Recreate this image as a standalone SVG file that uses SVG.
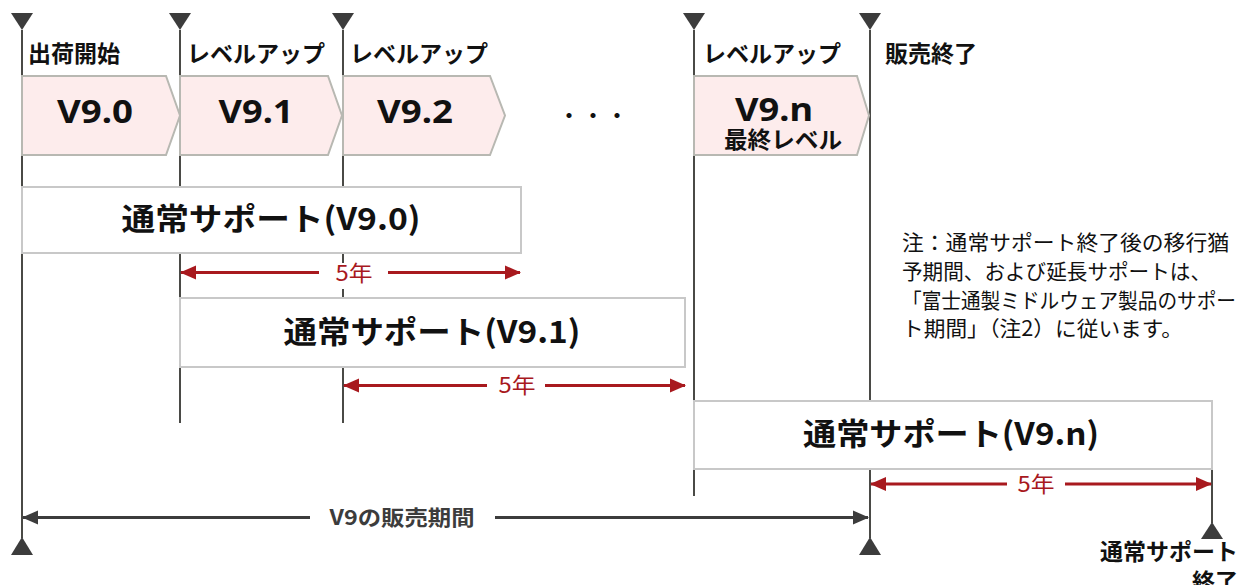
<svg xmlns="http://www.w3.org/2000/svg" width="1241" height="585" viewBox="0 0 1241 585">
<defs>
<style>
.vline{stroke:#4a4a46;stroke-width:2;fill:none}
.tri{fill:#3c3c3c}
.pent{fill:#FDECEC;stroke:#B8B8B2;stroke-width:2}
.box{fill:#ffffff;stroke:#C8C8C8;stroke-width:2}
.red{stroke:#A8191E;stroke-width:3;fill:none}
.dark{stroke:#3c3c3c;stroke-width:3;fill:none}
.lbl{font-family:"Noto Sans CJK JP","Noto Sans",sans-serif;font-weight:bold;font-size:23px;fill:#111}
.ver{font-family:"Noto Sans","Noto Sans CJK JP",sans-serif;font-weight:bold;font-size:33px;fill:#111;text-anchor:middle}
.sup{font-family:"Noto Sans CJK JP","Noto Sans",sans-serif;font-weight:bold;font-size:31px;fill:#111;text-anchor:middle}
.yr{font-family:"Noto Sans CJK JP","Noto Sans",sans-serif;font-size:22px;fill:#A8191E;text-anchor:middle}
.note{font-family:"Noto Sans CJK JP","Noto Sans",sans-serif;font-size:21px;fill:#111}
</style>
<marker id="ra" markerUnits="userSpaceOnUse" markerWidth="16" markerHeight="16" viewBox="0 0 16 16" refX="15" refY="8" orient="auto-start-reverse"><path d="M0,1 L16,8 L0,15 Z" fill="#A8191E"/></marker>
<marker id="da" markerUnits="userSpaceOnUse" markerWidth="16" markerHeight="16" viewBox="0 0 16 16" refX="15" refY="8" orient="auto-start-reverse"><path d="M0,1 L16,8 L0,15 Z" fill="#3c3c3c"/></marker>
</defs>
<rect width="1241" height="585" fill="#ffffff"/>
<g id="connectors">
<line class="vline" x1="22" y1="30" x2="22" y2="538"/>
<line class="vline" x1="180" y1="30" x2="180" y2="423"/>
<line class="vline" x1="343" y1="30" x2="343" y2="423"/>
<line class="vline" x1="694" y1="30" x2="694" y2="496"/>
<line class="vline" x1="870" y1="30" x2="870" y2="538"/>
<line class="vline" x1="1212" y1="428" x2="1212" y2="523"/>
<path class="tri" d="M11,13 L33,13 L22,30 Z"/>
<path class="tri" d="M169,13 L191,13 L180,30 Z"/>
<path class="tri" d="M332,13 L354,13 L343,30 Z"/>
<path class="tri" d="M683,13 L705,13 L694,30 Z"/>
<path class="tri" d="M859,13 L881,13 L870,30 Z"/>
<path class="tri" d="M11,555 L33,555 L22,537 Z"/>
<path class="tri" d="M859,555 L881,555 L870,537 Z"/>
<path class="tri" d="M1201,539 L1223,539 L1212,522 Z"/>
<line class="red" x1="181" y1="272.5" x2="319" y2="272.5" marker-start="url(#ra)"/>
<line class="red" x1="388" y1="272.5" x2="520" y2="272.5" marker-end="url(#ra)"/>
<rect x="333" y="263" width="41" height="26" fill="#ffffff"/>
<text class="yr" x="354" y="281" textLength="37" lengthAdjust="spacingAndGlyphs">5年</text>
<line class="red" x1="344" y1="385.5" x2="487" y2="385.5" marker-start="url(#ra)"/>
<line class="red" x1="545" y1="385.5" x2="685" y2="385.5" marker-end="url(#ra)"/>
<text class="yr" x="517" y="393" textLength="37" lengthAdjust="spacingAndGlyphs">5年</text>
<line class="red" x1="871" y1="484" x2="1007" y2="484" marker-start="url(#ra)"/>
<line class="red" x1="1065" y1="484" x2="1211" y2="484" marker-end="url(#ra)"/>
<text class="yr" x="1036" y="492" textLength="37" lengthAdjust="spacingAndGlyphs">5年</text>
<line class="dark" x1="23" y1="517.5" x2="310" y2="517.5" marker-start="url(#da)"/>
<line class="dark" x1="495" y1="517.5" x2="868" y2="517.5" marker-end="url(#da)"/>
<text x="402" y="525" textLength="145" lengthAdjust="spacingAndGlyphs" style="font-family:'Noto Sans CJK JP','Noto Sans',sans-serif;font-weight:bold;font-size:21px;fill:#3c3c3c;text-anchor:middle">V9の販売期間</text>
</g>
<g id="label-start"><text class="lbl" x="28" y="62">出荷開始</text></g>
<g id="label-lv1"><text class="lbl" x="187" y="62">レベルアップ</text></g>
<g id="label-lv2"><text class="lbl" x="350" y="62">レベルアップ</text></g>
<g id="label-lvn"><text class="lbl" x="703" y="62">レベルアップ</text></g>
<g id="label-end"><text class="lbl" x="885" y="62">販売終了</text></g>
<g id="v90"><path class="pent" d="M22,76 L166,76 L180,115.5 L166,155 L22,155 Z"/><text class="ver" x="95" y="123" textLength="76" lengthAdjust="spacingAndGlyphs">V9.0</text></g>
<g id="v91"><path class="pent" d="M180,76 L328,76 L342,115.5 L328,155 L180,155 Z"/><text class="ver" x="256" y="123" textLength="75" lengthAdjust="spacingAndGlyphs">V9.1</text></g>
<g id="v92"><path class="pent" d="M343,76 L490,76 L505,115.5 L490,155 L343,155 Z"/><text class="ver" x="415" y="123" textLength="76" lengthAdjust="spacingAndGlyphs">V9.2</text></g>
<g id="dots"><text x="593" y="124" style="font-family:'Noto Sans CJK JP',sans-serif;font-size:24px;fill:#111;text-anchor:middle">・・・</text></g>
<g id="v9n"><path class="pent" d="M694,76 L857,76 L869,115.5 L857,155 L694,155 Z"/><text class="ver" x="774" y="121" font-size="31" textLength="78" lengthAdjust="spacingAndGlyphs">V9.n</text><text class="lbl" x="783" y="148" text-anchor="middle" font-size="22" textLength="118" lengthAdjust="spacingAndGlyphs">最終レベル</text></g>
<g id="sup90"><rect class="box" x="22" y="187" width="499" height="66"/><text class="sup" x="271" y="230" textLength="299" lengthAdjust="spacingAndGlyphs">通常サポート(V9.0)</text></g>
<g id="sup91"><rect class="box" x="180" y="298" width="505" height="69"/><text class="sup" x="432" y="343" textLength="297" lengthAdjust="spacingAndGlyphs">通常サポート(V9.1)</text></g>
<g id="sup9n"><rect class="box" x="694" y="401" width="518" height="68"/><text class="sup" x="951" y="445" textLength="296" lengthAdjust="spacingAndGlyphs">通常サポート(V9.n)</text></g>
<g id="note">
<text class="note" x="902" y="250" textLength="327" lengthAdjust="spacingAndGlyphs">注：通常サポート終了後の移行猶</text>
<text class="note" x="902" y="279" textLength="309" lengthAdjust="spacingAndGlyphs">予期間、および延長サポートは、</text>
<text class="note" x="902" y="308" textLength="334" lengthAdjust="spacingAndGlyphs">「富士通製ミドルウェア製品のサポー</text>
<text class="note" x="902" y="336" textLength="281" lengthAdjust="spacingAndGlyphs">ト期間」（注2）に従います。</text>
</g>
<g id="label-support-end">
<text class="lbl" x="1238" y="560" text-anchor="end">通常サポート</text>
<text class="lbl" x="1238" y="590" text-anchor="end">終了</text>
</g>
</svg>
